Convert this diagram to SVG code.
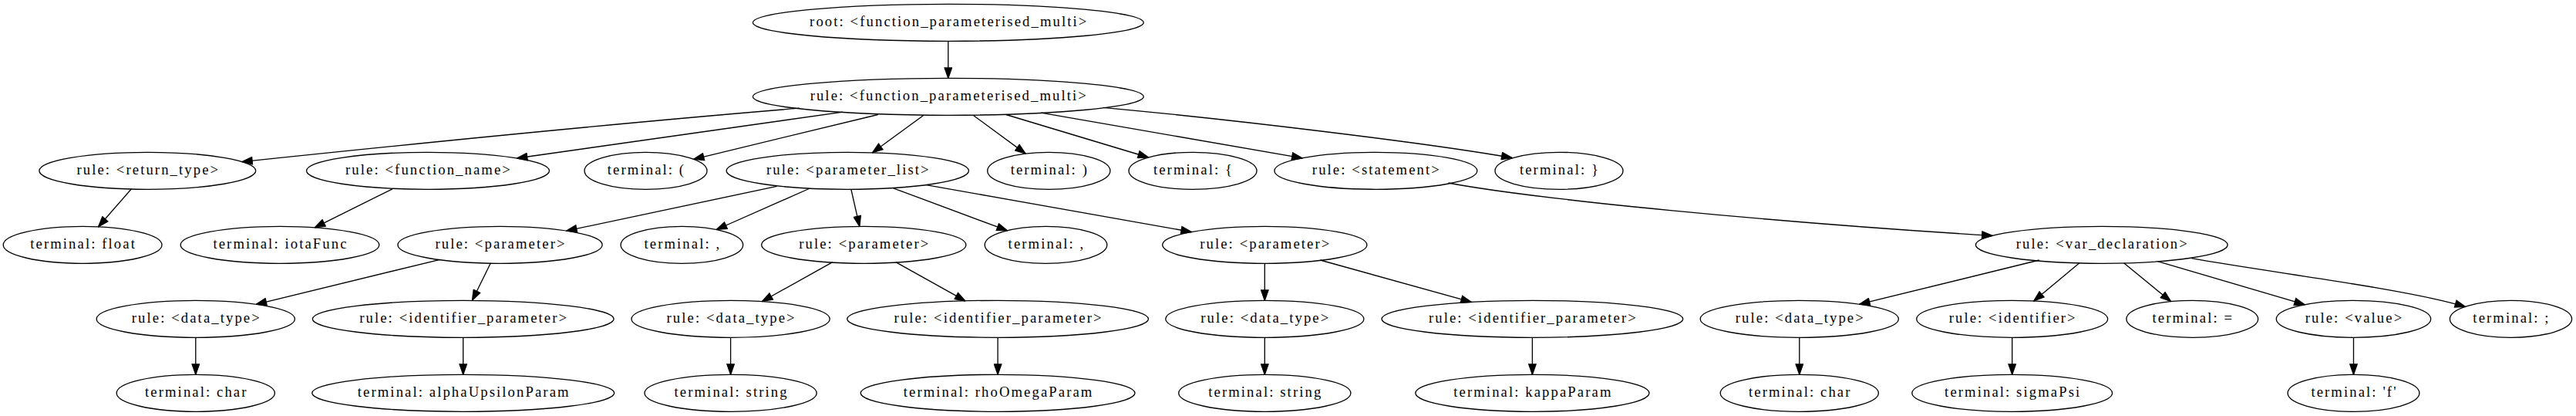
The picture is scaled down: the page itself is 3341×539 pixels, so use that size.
<svg xmlns="http://www.w3.org/2000/svg" width="3341" height="539" viewBox="0 0 3341 539">
<style>
.n ellipse{fill:none;stroke:#000;stroke-width:1.33}
.n text{font-family:"Liberation Serif","Times New Roman",serif;font-size:18.67px;letter-spacing:2.1px;text-anchor:middle;fill:#000}
.e path{fill:none;stroke:#000;stroke-width:1.33;marker-end:url(#ah)}
</style>
<defs>
<marker id="ah" markerUnits="userSpaceOnUse" markerWidth="15" markerHeight="11" viewBox="-1 -1 15 11" refX="13.33" refY="4.67" orient="auto">
<path d="M0,0 L13.33,4.67 L0,9.33 Z" fill="#000" stroke="#000" stroke-width="1.33"/>
</marker>
</defs>
<rect width="3341" height="539" fill="#fff"/>
<g id="connectors" class="e">
<path d="M1229.8,53.3 L1229.8,101.3"/>
<path d="M1037,140.2 C820,158 520,188 313.8,209.6"/>
<path d="M1093.2,145.1 L670.4,205"/>
<path d="M1138.7,148.5 L899.6,206.3"/>
<path d="M1197.7,149.5 L1131.5,197.8"/>
<path d="M1262.5,149.5 L1330.1,199.1"/>
<path d="M1304.8,148.5 L1489.5,204"/>
<path d="M1350.3,146.1 L1689,204.8"/>
<path d="M1430.7,139.3 C1600,155 1850,185 1961,204.5"/>
<path d="M170.4,244.8 L127.6,293.8"/>
<path d="M508.9,244.8 L408.2,294.8"/>
<path d="M1007.5,241.4 L734.7,299.1"/>
<path d="M1049.3,244.5 L929.2,297.5"/>
<path d="M1103.9,245.5 L1114.8,293.3"/>
<path d="M1158.6,243.8 L1306.4,298.7"/>
<path d="M1201.4,239.6 L1545.3,300.5"/>
<path d="M1878.4,237 C1990,258 2300,288 2584,305.4"/>
<path d="M570.5,336.3 L332.2,394.3"/>
<path d="M636.4,340.8 L612.5,389.3"/>
<path d="M1079.8,339.7 L988.5,390.5"/>
<path d="M1161.8,339.7 L1252,389.9"/>
<path d="M1640.3,341.3 L1640.3,389.3"/>
<path d="M1712.3,337 L1908.3,391.4"/>
<path d="M2644.7,337 L2411.6,394.2"/>
<path d="M2696.9,340.8 L2637.8,389.9"/>
<path d="M2754.6,340.8 L2815.5,390.6"/>
<path d="M2798.5,338.7 L2989.2,394.7"/>
<path d="M2842.4,334.7 C2950,354 3120,374 3197.5,397.5"/>
<path d="M253.8,437.3 L253.8,485.3"/>
<path d="M600.7,437.3 L600.7,485.3"/>
<path d="M947.6,437.3 L947.6,485.3"/>
<path d="M1294.1,437.3 L1294.1,485.3"/>
<path d="M1640.3,437.3 L1640.3,485.3"/>
<path d="M1987.4,437.3 L1987.4,485.3"/>
<path d="M2333.8,437.3 L2333.8,485.3"/>
<path d="M2609.7,437.3 L2609.7,485.3"/>
<path d="M3052.5,437.3 L3052.5,485.3"/>
</g>
<g id="n0" class="n"><ellipse cx="1229.8" cy="29.3" rx="253.4" ry="24"/><text x="1230.8" y="34.3">root: &lt;function_parameterised_multi&gt;</text></g>
<g id="n1" class="n"><ellipse cx="1229.8" cy="125.3" rx="253.4" ry="24"/><text x="1230.8" y="130.3">rule: &lt;function_parameterised_multi&gt;</text></g>
<g id="n2" class="n"><ellipse cx="191.3" cy="221.3" rx="140.4" ry="24"/><text x="192.3" y="226.3">rule: &lt;return_type&gt;</text></g>
<g id="n3" class="n"><ellipse cx="555" cy="221.3" rx="157.5" ry="24"/><text x="556" y="226.3">rule: &lt;function_name&gt;</text></g>
<g id="n4" class="n"><ellipse cx="837.5" cy="221.3" rx="79.5" ry="24"/><text x="838.5" y="226.3">terminal: (</text></g>
<g id="n5" class="n"><ellipse cx="1099.3" cy="221.3" rx="157.2" ry="24"/><text x="1100.3" y="226.3">rule: &lt;parameter_list&gt;</text></g>
<g id="n6" class="n"><ellipse cx="1360.3" cy="221.3" rx="79.6" ry="24"/><text x="1361.3" y="226.3">terminal: )</text></g>
<g id="n7" class="n"><ellipse cx="1547" cy="221.3" rx="83" ry="24"/><text x="1548" y="226.3">terminal: {</text></g>
<g id="n8" class="n"><ellipse cx="1784.4" cy="221.3" rx="131.5" ry="24"/><text x="1785.4" y="226.3">rule: &lt;statement&gt;</text></g>
<g id="n9" class="n"><ellipse cx="2022" cy="221.3" rx="83" ry="24"/><text x="2023" y="226.3">terminal: }</text></g>
<g id="n10" class="n"><ellipse cx="107.1" cy="317.3" rx="102.9" ry="24"/><text x="108.1" y="322.3">terminal: float</text></g>
<g id="n11" class="n"><ellipse cx="363" cy="317.3" rx="128.8" ry="24"/><text x="364" y="322.3">terminal: iotaFunc</text></g>
<g id="n12" class="n"><ellipse cx="648.5" cy="317.3" rx="132.6" ry="24"/><text x="649.5" y="322.3">rule: &lt;parameter&gt;</text></g>
<g id="n13" class="n"><ellipse cx="884.4" cy="317.3" rx="79.3" ry="24"/><text x="885.4" y="322.3">terminal: ,</text></g>
<g id="n14" class="n"><ellipse cx="1120.3" cy="317.3" rx="132.6" ry="24"/><text x="1121.3" y="322.3">rule: &lt;parameter&gt;</text></g>
<g id="n15" class="n"><ellipse cx="1356.5" cy="317.3" rx="79.3" ry="24"/><text x="1357.5" y="322.3">terminal: ,</text></g>
<g id="n16" class="n"><ellipse cx="1640.3" cy="317.3" rx="132.6" ry="24"/><text x="1641.3" y="322.3">rule: &lt;parameter&gt;</text></g>
<g id="n17" class="n"><ellipse cx="2725.8" cy="317.3" rx="163.4" ry="24"/><text x="2726.8" y="322.3">rule: &lt;var_declaration&gt;</text></g>
<g id="n18" class="n"><ellipse cx="253.8" cy="413.3" rx="128.6" ry="24"/><text x="254.8" y="418.3">rule: &lt;data_type&gt;</text></g>
<g id="n19" class="n"><ellipse cx="600.7" cy="413.3" rx="195.4" ry="24"/><text x="601.7" y="418.3">rule: &lt;identifier_parameter&gt;</text></g>
<g id="n20" class="n"><ellipse cx="947.6" cy="413.3" rx="128.6" ry="24"/><text x="948.6" y="418.3">rule: &lt;data_type&gt;</text></g>
<g id="n21" class="n"><ellipse cx="1294.1" cy="413.3" rx="195.4" ry="24"/><text x="1295.1" y="418.3">rule: &lt;identifier_parameter&gt;</text></g>
<g id="n22" class="n"><ellipse cx="1640.3" cy="413.3" rx="128.6" ry="24"/><text x="1641.3" y="418.3">rule: &lt;data_type&gt;</text></g>
<g id="n23" class="n"><ellipse cx="1987.4" cy="413.3" rx="195.4" ry="24"/><text x="1988.4" y="418.3">rule: &lt;identifier_parameter&gt;</text></g>
<g id="n24" class="n"><ellipse cx="2333.8" cy="413.3" rx="128.6" ry="24"/><text x="2334.8" y="418.3">rule: &lt;data_type&gt;</text></g>
<g id="n25" class="n"><ellipse cx="2609.7" cy="413.3" rx="124" ry="24"/><text x="2610.7" y="418.3">rule: &lt;identifier&gt;</text></g>
<g id="n26" class="n"><ellipse cx="2843.3" cy="413.3" rx="85.4" ry="24"/><text x="2844.3" y="418.3">terminal: =</text></g>
<g id="n27" class="n"><ellipse cx="3052.5" cy="413.3" rx="100.2" ry="24"/><text x="3053.5" y="418.3">rule: &lt;value&gt;</text></g>
<g id="n28" class="n"><ellipse cx="3256.5" cy="413.3" rx="79.1" ry="24"/><text x="3257.5" y="418.3">terminal: ;</text></g>
<g id="n29" class="n"><ellipse cx="253.8" cy="509.3" rx="102.6" ry="24"/><text x="254.8" y="514.3">terminal: char</text></g>
<g id="n30" class="n"><ellipse cx="600.7" cy="509.3" rx="196" ry="24"/><text x="601.7" y="514.3">terminal: alphaUpsilonParam</text></g>
<g id="n31" class="n"><ellipse cx="947.6" cy="509.3" rx="111.6" ry="24"/><text x="948.6" y="514.3">terminal: string</text></g>
<g id="n32" class="n"><ellipse cx="1294.1" cy="509.3" rx="177.9" ry="24"/><text x="1295.1" y="514.3">terminal: rhoOmegaParam</text></g>
<g id="n33" class="n"><ellipse cx="1640.3" cy="509.3" rx="111.6" ry="24"/><text x="1641.3" y="514.3">terminal: string</text></g>
<g id="n34" class="n"><ellipse cx="1987.4" cy="509.3" rx="151.6" ry="24"/><text x="1988.4" y="514.3">terminal: kappaParam</text></g>
<g id="n35" class="n"><ellipse cx="2333.8" cy="509.3" rx="102.6" ry="24"/><text x="2334.8" y="514.3">terminal: char</text></g>
<g id="n36" class="n"><ellipse cx="2609.7" cy="509.3" rx="129.9" ry="24"/><text x="2610.7" y="514.3">terminal: sigmaPsi</text></g>
<g id="n37" class="n"><ellipse cx="3052.5" cy="509.3" rx="85.4" ry="24"/><text x="3053.5" y="514.3">terminal: 'f'</text></g>
</svg>
